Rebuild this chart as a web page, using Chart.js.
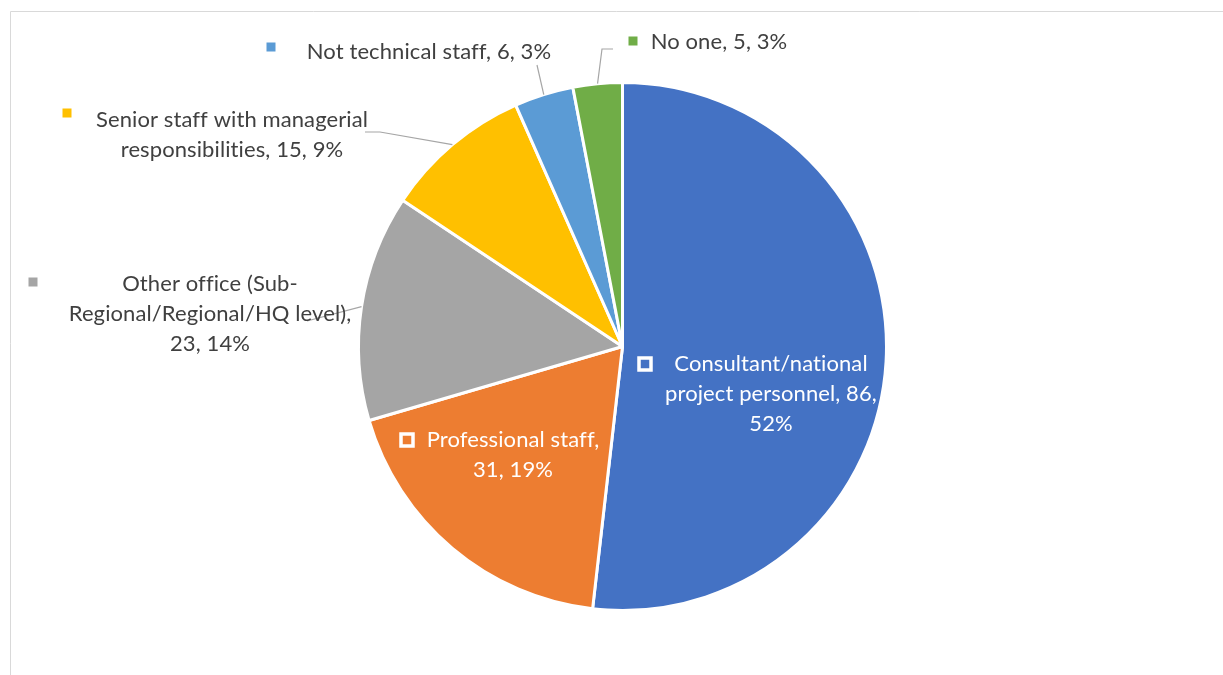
<!DOCTYPE html>
<html>
<head>
<meta charset="utf-8">
<script src="https://cdn.jsdelivr.net/npm/chart.js@4.4.1/dist/chart.umd.min.js"></script>
<style>
html, body { margin: 0; padding: 0; background: #ffffff; }
#wrap { width: 1223px; height: 675px; position: relative; }
</style>
</head>
<body>
<div id="wrap"><canvas id="pieChart" width="1223" height="675"></canvas></div>
<script>
(function () {

// ---------------------------------------------------------------- data
var categories = [
    "Consultant/national project personnel",
    "Professional staff",
    "Other office (Sub-Regional/Regional/HQ level)",
    "Senior staff with managerial responsibilities",
    "Not technical staff",
    "No one"
];
var counts = [86, 31, 23, 15, 6, 5];
var shares = ["52%", "19%", "14%", "9%", "3%", "3%"];
var colors = ["#4472C4", "#ED7D31", "#A5A5A5", "#FFC000", "#5B9BD5", "#70AD47"];

// ---------------------------------------------------------------- label placement (Excel-style callouts)
var LABEL_FONT = "22px Lato";
var LINE_H = 30;
var labelLayout = [
    { cx: 771, y: 364, wrap: 230, box: [645, 364], inside: true },
    { cx: 513, y: 440, wrap: 185, box: [407, 440], inside: true },
    { cx: 210, y: 284, wrap: 290, box: [33, 282], leader: [[307, 321]] },
    { cx: 232, y: 120, wrap: 280, box: [67, 113], leader: [[365, 132], [380, 132]] },
    { cx: 429, y: 52, wrap: 500, box: [271, 47], leader: [[537, 65]] },
    { cx: 719, y: 42, wrap: 500, box: [633, 41], leader: [[613, 49], [602, 49]] }
];

function wrapText(ctx, text, maxW) {
    var tokens = text.split(/(?<=[ \-])/);
    var lines = [], cur = "";
    tokens.forEach(function (t) {
        var test = cur + t;
        if (cur && ctx.measureText(test.trim()).width > maxW) {
            lines.push(cur.trim());
            cur = t;
        } else {
            cur = test;
        }
    });
    if (cur.trim()) lines.push(cur.trim());
    return lines;
}

var calloutPlugin = {
    id: "callouts",
    beforeDraw: function (chart) {
        var ctx = chart.ctx;
        ctx.save();
        ctx.strokeStyle = "#D9D9D9";
        ctx.lineWidth = 1;
        ctx.beginPath();
        ctx.moveTo(10.5, chart.height);
        ctx.lineTo(10.5, 11.5);
        ctx.lineTo(chart.width, 11.5);
        ctx.stroke();
        ctx.restore();
    },
    afterDatasetsDraw: function (chart) {
        var ctx = chart.ctx;
        var arcs = chart.getDatasetMeta(0).data;
        ctx.save();
        ctx.font = LABEL_FONT;
        ctx.letterSpacing = "0.1px"; // keeps "ti" from turning into a ligature
        ctx.textAlign = "center";
        ctx.textBaseline = "middle";
        arcs.forEach(function (arc, i) {
            var L = labelLayout[i];
            var p = arc.getProps(["x", "y", "startAngle", "endAngle", "outerRadius"], true);

            // leader line to the slice edge
            if (L.leader) {
                var mid = (p.startAngle + p.endAngle) / 2;
                ctx.strokeStyle = "#A6A6A6";
                ctx.lineWidth = 1.2;
                ctx.beginPath();
                ctx.moveTo(L.leader[0][0], L.leader[0][1]);
                for (var k = 1; k < L.leader.length; k++) ctx.lineTo(L.leader[k][0], L.leader[k][1]);
                ctx.lineTo(p.x + Math.cos(mid) * p.outerRadius, p.y + Math.sin(mid) * p.outerRadius);
                ctx.stroke();
            }

            // legend key
            if (L.inside) {
                ctx.fillStyle = colors[i];
                ctx.fillRect(L.box[0] - 6, L.box[1] - 6, 12, 12);
                ctx.strokeStyle = "#ffffff";
                ctx.lineWidth = 3.5;
                ctx.strokeRect(L.box[0] - 6, L.box[1] - 6, 12, 12);
            } else {
                ctx.fillStyle = colors[i];
                ctx.fillRect(L.box[0] - 4.5, L.box[1] - 4.5, 9, 9);
            }

            // text
            ctx.fillStyle = L.inside ? "#ffffff" : "#404040";
            var lines = wrapText(ctx, categories[i] + ", " + counts[i] + ", " + shares[i], L.wrap);
            lines.forEach(function (ln, j) {
                ctx.fillText(ln, L.cx, L.y + j * LINE_H);
            });
        });
        ctx.restore();
    }
};

// ---------------------------------------------------------------- chart
window.pie_chart = function (canvasId) {
    try {
        var canvas = document.getElementById(canvasId);
        if (!canvas) return;
        var ctx = canvas.getContext("2d");

        return new Chart(ctx, {
            type: "pie",
            data: {
                labels: categories,
                datasets: [{
                    data: counts,
                    backgroundColor: colors,
                    borderColor: "#ffffff",
                    borderWidth: 3
                }]
            },
            options: {
                responsive: false,
                animation: false,
                devicePixelRatio: 1,
                layout: { padding: { left: 357, right: 335, top: 81, bottom: 63 } },
                plugins: {
                    legend: { display: false },
                    tooltip: { enabled: false }
                }
            },
            plugins: [calloutPlugin]
        });
    } catch (e) {
        console.log("Error in pie_chart: " + e);
    }
};

window.pie_chart("pieChart");

})();
</script>
</body>
</html>
